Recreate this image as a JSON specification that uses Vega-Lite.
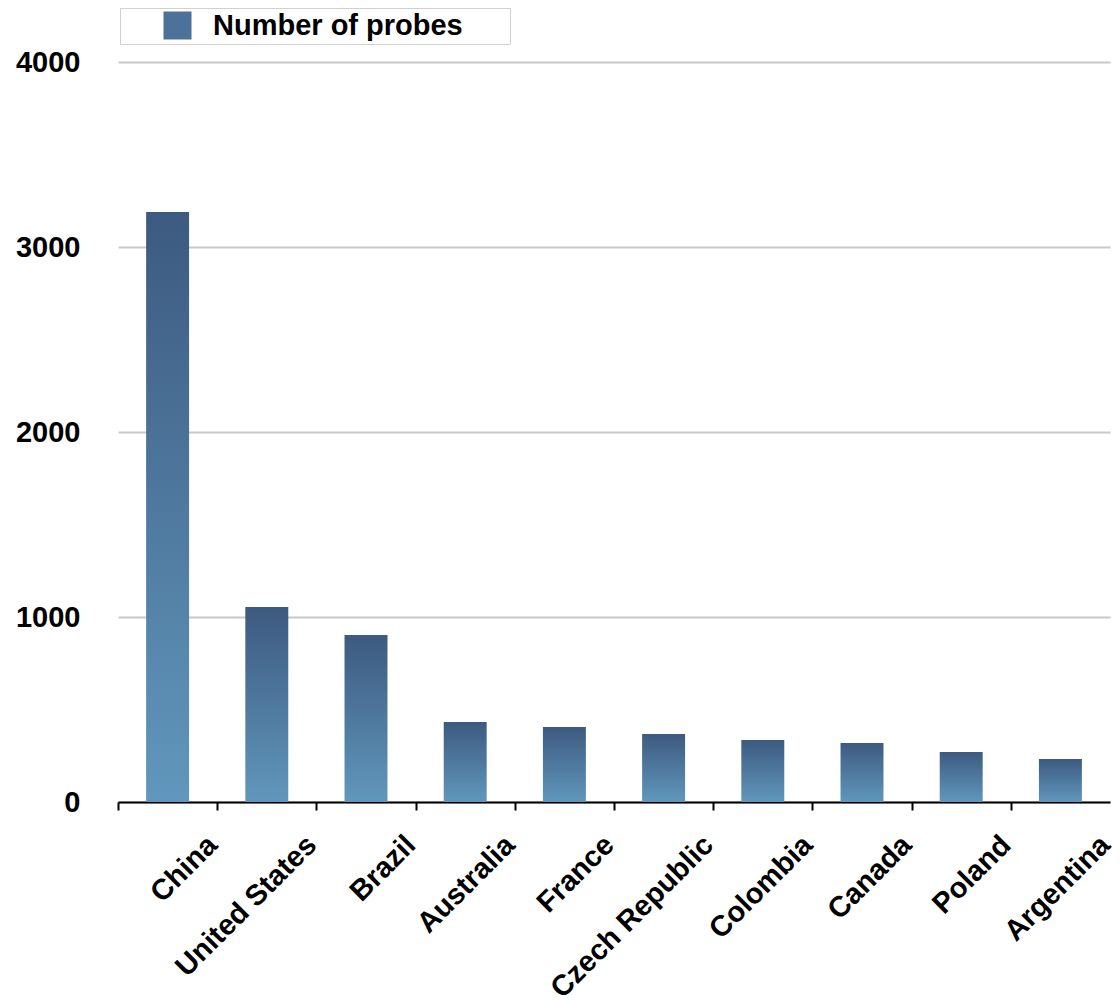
{
  "$schema": "https://vega.github.io/schema/vega-lite/v6.json",
  "width": 992,
  "height": 740,
  "autosize": "none",
  "padding": {"left": 118, "top": 62, "right": 10, "bottom": 198},
  "background": "white",
  "data": {
    "values": [
      {"country": "China", "probes": 3189},
      {"country": "United States", "probes": 1054},
      {"country": "Brazil", "probes": 903},
      {"country": "Australia", "probes": 432},
      {"country": "France", "probes": 405},
      {"country": "Czech Republic", "probes": 368},
      {"country": "Colombia", "probes": 335},
      {"country": "Canada", "probes": 319},
      {"country": "Poland", "probes": 270},
      {"country": "Argentina", "probes": 232}
    ]
  },
  "encoding": {
    "x": {
      "field": "country",
      "type": "nominal",
      "sort": null,
      "scale": {"paddingInner": 0.567, "paddingOuter": 0.2835},
      "axis": {
        "title": null,
        "labelAngle": -45,
        "labelAlign": "right",
        "labelBaseline": "middle",
        "labelOffset": 94,
        "labelPadding": 30,
        "labelLimit": 0,
        "labelFont": "Liberation Sans",
        "labelFontWeight": "bold",
        "labelFontSize": 29,
        "labelColor": "#000000",
        "domainColor": "#000000",
        "domainWidth": 2,
        "tickColor": "#000000",
        "tickWidth": 2,
        "tickSize": 8,
        "tickOffset": -49.6,
        "grid": false
      }
    },
    "y": {
      "field": "probes",
      "type": "quantitative",
      "scale": {"domain": [0, 4000], "nice": false},
      "axis": {
        "title": null,
        "values": [0, 1000, 2000, 3000, 4000],
        "format": "d",
        "domain": false,
        "ticks": false,
        "labelPadding": 38,
        "labelFont": "Liberation Sans",
        "labelFontWeight": "bold",
        "labelFontSize": 29,
        "labelColor": "#000000",
        "gridColor": "#c8c8c8",
        "gridWidth": 2
      }
    }
  },
  "layer": [
    {
      "mark": {
        "type": "bar",
        "color": {
          "gradient": "linear",
          "x1": 0, "y1": 0, "x2": 0, "y2": 1,
          "stops": [
            {"offset": 0, "color": "#3d5a80"},
            {"offset": 1, "color": "#6197bc"}
          ]
        }
      }
    },
    {
      "mark": {"type": "bar", "opacity": 0},
      "encoding": {
        "color": {
          "datum": "Number of probes",
          "type": "nominal",
          "scale": {"range": ["#4c7299"]},
          "legend": {
            "title": "\u00a0",
            "titleOrient": "right",
            "titlePadding": 44,
            "titleFontSize": 10,
            "orient": "none",
            "legendX": 2,
            "legendY": -54,
            "strokeColor": "#d0d0d0",
            "padding": 3,
            "symbolType": "square",
            "symbolSize": 784,
            "symbolOpacity": 1,
            "symbolStrokeWidth": 0,
            "symbolOffset": 40,
            "labelOffset": 21,
            "labelLimit": 0,
            "labelFont": "Liberation Sans",
            "labelFontWeight": "bold",
            "labelFontSize": 29,
            "labelColor": "#000000"
          }
        }
      }
    }
  ],
  "config": {"view": {"stroke": null}}
}
